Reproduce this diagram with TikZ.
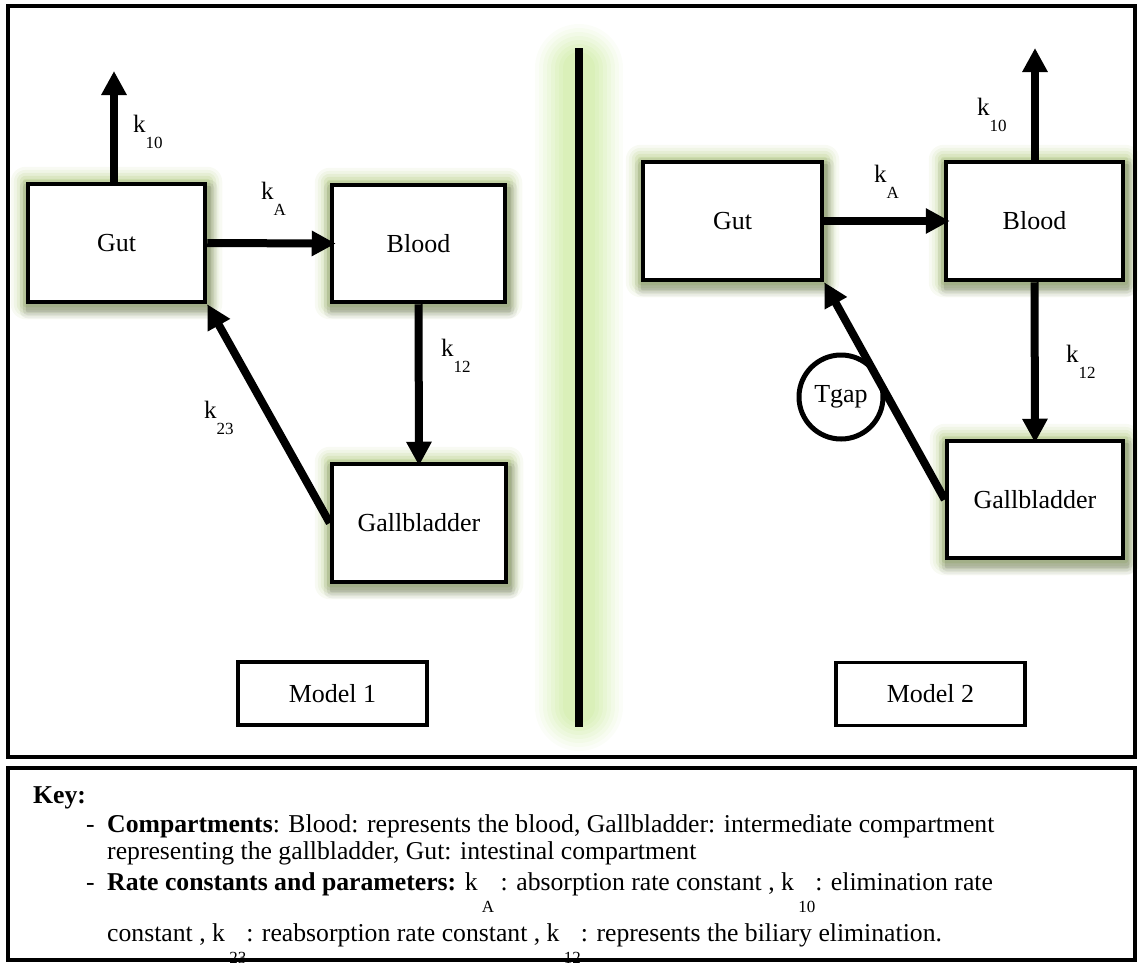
\documentclass[tikz,border=0pt]{standalone}
\usepackage{fontspec}
\setmainfont{Liberation Serif}
\usetikzlibrary{arrows.meta,calc,backgrounds}

\definecolor{glowolive}{RGB}{155,187,89}
\definecolor{dividerglow}{RGB}{180,225,115}

% rate constant label: k with a lowered index
\newcommand\kdiag[1]{k\raisebox{-16pt}{\fontsize{17}{17}\selectfont #1}}
\newcommand\kkey[1]{k\,\raisebox{-22pt}{\fontsize{17}{17}\selectfont #1}}

% soft olive glow plus a small drop shadow behind a compartment
\newcommand\glowaround[1]{%
  \foreach \s/\o in {15/0.07,12/0.09,9/0.12,6/0.15,3/0.2}{%
    \fill[glowolive, opacity=\o, rounded corners=\s pt]
      ($(#1.south west)+(-\s,\s)$) rectangle ($(#1.north east)+(\s,-\s)$);
  }%
  \foreach \s/\o in {8/0.05,5/0.07,2/0.1}{%
    \fill[black, opacity=\o, rounded corners=\s pt]
      ($(#1.south west)+(-\s+2,\s+6)$) rectangle ($(#1.north east)+(\s+2,-\s+6)$);
  }%
}

\tikzset{
  compbox/.style={draw, line width=4.5pt, fill=white, inner sep=0pt,
    font=\fontsize{26}{30}\selectfont},
  modelbox/.style={draw, line width=3.5pt, fill=white, inner sep=0pt,
    minimum width=189, minimum height=63, font=\fontsize{26}{30}\selectfont},
  delaycircle/.style={draw, circle, line width=5pt, fill=white, inner sep=0pt,
    minimum size=84, font=\fontsize{26}{30}\selectfont},
  flow/.style={line width=8pt, -{Triangle[length=24pt,width=24pt]}},
  ratelabel/.style={anchor=base west, inner sep=0pt, font=\fontsize{25}{28}\selectfont},
  keytext/.style={anchor=base west, inner sep=0pt, font=\fontsize{25.7}{28}\selectfont},
  frame/.style={draw, line width=4pt},
}

\begin{document}
\begin{tikzpicture}[x=1pt, y=-1pt]
\useasboundingbox (0,0) rectangle (1138,962);
\clip (0,0) rectangle (1138,962);

% outer frames
\draw[frame] (8,6) rectangle (1135,757);
\draw[frame] (8,768) rectangle (1135,960);

% divider between the two models
\coordinate (dtop) at (579,48);
\coordinate (dbot) at (579,727);
\foreach \w/\o in {88/0.05,80/0.06,72/0.07,64/0.08,56/0.09,48/0.1,40/0.1,32/0.1}{%
  \draw[dividerglow, line width=\w pt, opacity=\o, line cap=round]
    ($(dtop)+(0,20)$) -- ($(dbot)+(0,-20)$);
}
\draw[line width=8pt] (dtop) -- (dbot);

% ---------- Model 1 ----------
\node[compbox, minimum width=177, minimum height=118] (gut1) at (116.5,243) {Gut};
\node[compbox, minimum width=173, minimum height=117] (blood1) at (418.5,243.5) {Blood};
\node[compbox, minimum width=174, minimum height=118] (gb1) at (419,523) {Gallbladder};
\node[modelbox] (model1) at (332.5,693.5) {Model 1};

\coordinate (out1) at (114,71);
\draw[flow] (gut1.north -| out1) -- (out1);
\draw[flow, shorten >=-6pt] (gut1.east) -- (blood1.west);
\draw[flow, shorten >=-4pt] (blood1.south) -- (gb1.north);
\draw[flow] (gb1.west) -- (gut1.south east);

\node[ratelabel] (k10a) at (133,132) {\kdiag{10}};
\node[ratelabel] (kAa) at (261,199) {\kdiag{A}};
\node[ratelabel] (k12a) at (441,356) {\kdiag{12}};
\node[ratelabel] (k23a) at (204,418) {\kdiag{23}};

% ---------- Model 2 ----------
\node[compbox, minimum width=179, minimum height=118] (gut2) at (732.5,221) {Gut};
\node[compbox, minimum width=177, minimum height=118] (blood2) at (1034.5,221) {Blood};
\node[compbox, minimum width=176, minimum height=117] (gb2) at (1035,499.5) {Gallbladder};
\node[modelbox] (model2) at (930.5,694) {Model 2};
\node[delaycircle] (tgap) at (841,397) {Tgap};

\coordinate (out2) at (1035,48);
\draw[flow] (blood2.north -| out2) -- (out2);
\draw[flow, shorten >=-6pt] (gut2.east) -- (blood2.west);
\draw[flow, shorten >=-4pt] (blood2.south) -- (gb2.north);
\draw[flow] (gb2.west) -- (gut2.south east);

\node[ratelabel] (k10b) at (977,115) {\kdiag{10}};
\node[ratelabel] (kAb) at (874,182) {\kdiag{A}};
\node[ratelabel] (k12b) at (1066,362) {\kdiag{12}};

% glows behind the compartments
\begin{pgfonlayer}{background}
  \glowaround{gut1}
  \glowaround{blood1}
  \glowaround{gb1}
  \glowaround{gut2}
  \glowaround{blood2}
  \glowaround{gb2}
\end{pgfonlayer}

% ---------- Key ----------
\node[keytext] (keyhead) at (33,803) {\textbf{Key:}};
\node[keytext] (dash1) at (86,832) {-};
\node[keytext] (line1) at (107,832) {\textbf{Compartments}: Blood: represents the blood, Gallbladder: intermediate compartment};
\node[keytext] (line2) at (107,859) {representing the gallbladder, Gut: intestinal compartment};
\node[keytext] (dash2) at (86,890) {-};
\node[keytext] (line3) at (107,890) {\textbf{Rate constants and parameters:} \kkey{A} : absorption rate constant , \kkey{10}: elimination rate};
\node[keytext] (line4) at (107,941) {constant , \kkey{23}: reabsorption rate constant , \kkey{12}: represents the biliary elimination.};
\end{tikzpicture}
\end{document}
